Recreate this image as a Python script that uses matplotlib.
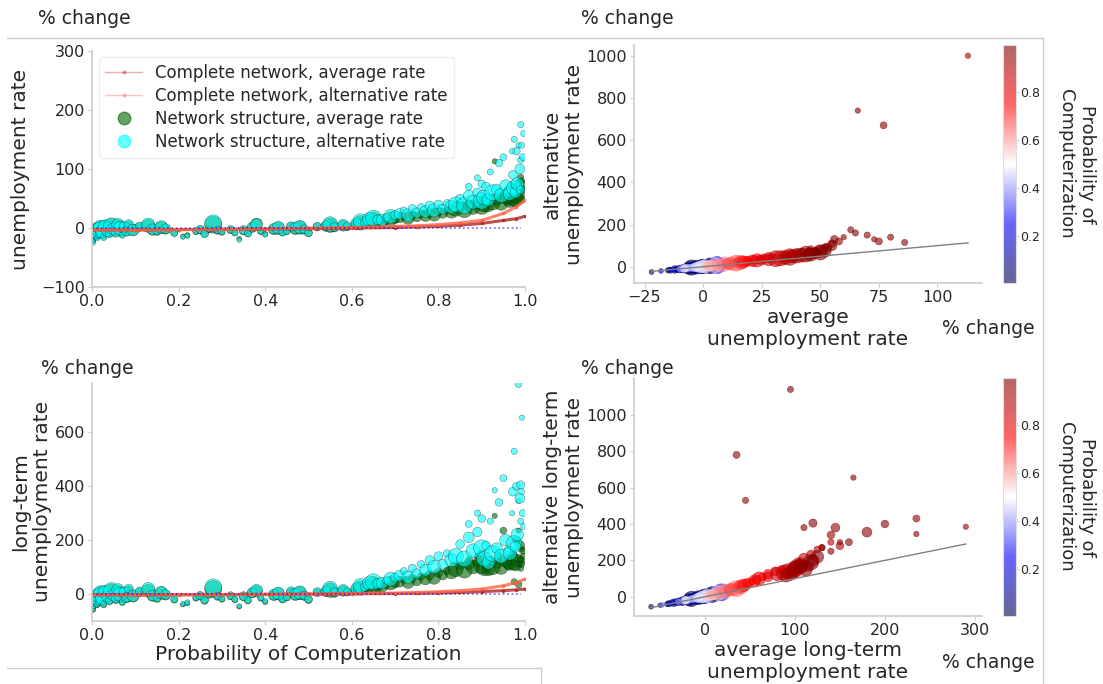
import numpy as np
import matplotlib
matplotlib.use('Agg')
import matplotlib.pyplot as plt
from matplotlib.lines import Line2D

# occupations: probability of computerization, marker size, % changes
prob = [0.003, 0.004, 0.006, 0.008, 0.01, 0.012, 0.015, 0.017, 0.02, 0.023,
        0.027, 0.03, 0.035, 0.04, 0.045, 0.05, 0.055, 0.06, 0.065, 0.07,
        0.075, 0.08, 0.085, 0.095,
        0.11, 0.13, 0.14, 0.15, 0.16, 0.17, 0.19, 0.21, 0.22, 0.24,
        0.25, 0.26, 0.27, 0.28, 0.29, 0.30,
        0.32, 0.33, 0.34, 0.35, 0.36, 0.37, 0.38, 0.39, 0.40, 0.42,
        0.43, 0.44, 0.45, 0.46, 0.47, 0.48, 0.49, 0.50, 0.52, 0.54,
        0.55, 0.56, 0.58, 0.59,
        0.61, 0.62, 0.63, 0.64, 0.65, 0.66, 0.67, 0.68, 0.69, 0.70,
        0.71, 0.72, 0.73, 0.74, 0.75, 0.76, 0.77, 0.78, 0.79, 0.80,
        0.81, 0.82, 0.83, 0.84, 0.85, 0.86, 0.87, 0.87, 0.88, 0.89,
        0.89, 0.90, 0.90,
        0.905, 0.91, 0.915, 0.92, 0.925, 0.93, 0.935, 0.94, 0.945, 0.95,
        0.955, 0.99, 0.962, 0.965, 0.993, 0.972, 0.975, 0.975, 0.978, 0.98,
        0.982, 0.985, 0.985, 0.988, 0.99, 0.99, 0.992, 0.97, 0.995, 0.997]

size = [12, 10, 30, 40, 120, 15, 100, 30, 110, 80,
        20, 90, 60, 30, 130, 70, 40, 80, 100, 20,
        60, 50, 40, 70,
        40, 90, 60, 30, 80, 50, 25, 12, 15, 20,
        35, 30, 25, 150, 30, 20,
        30, 20, 12, 40, 25, 50, 70, 20, 15, 60,
        80, 30, 25, 45, 70, 90, 40, 30, 35, 50,
        110, 40, 60, 30,
        60, 110, 40, 90, 130, 50, 70, 30, 100, 40,
        60, 25, 80, 35, 50, 30, 70, 45, 90, 40,
        50, 30, 90, 120, 40, 130, 60, 25, 100, 45,
        20, 140, 30,
        110, 40, 80, 20, 130, 15, 60, 30, 100, 25,
        70, 20, 50, 90, 15, 40, 120, 20, 60, 30,
        80, 25, 15, 50, 35, 20, 20, 15, 25, 20]

avg_u = [-22, -18, -12, -8, -5, -15, -3, -10, 0, -6,
         -14, 2, -4, -9, 3, -2, -7, 4, -1, -11,
         1, -5, 5, -3,
         2, 4, -3, -6, 1, -2, -8, -14, -12, -6,
         -3, -9, -2, 6, -4, -7,
         -3, -8, -18, -4, -9, 1, 7, -6, -10, -2,
         0, -7, -5, 2, -1, 1, -3, -8, 2, 3,
         5, 1, 4, 2,
         6, 9, 8, 12, 14, 10, 11, 13, 16, 15,
         18, 20, 17, 22, 19, 24, 21, 26, 23, 28,
         25, 30, 28, 33, 36, 31, 38, 42, 35, 40,
         46, 37, 48,
         40, 45, 38, 52, 44, 113, 48, 55, 42, 58,
         50, 63, 47, 46, 66, 53, 50, 70, 45, 56,
         52, 77, 60, 55, 48, 86, 80, 73, 75, 65]

alt_u = [-25, -20, -13, -9, -4, -17, -2, -11, 1, -6,
         -16, 3, -5, -10, 4, -1, -8, 6, 0, -12,
         2, -5, 7, -3,
         3, 6, -2, -5, 2, -1, -8, -15, -13, -5,
         -2, -10, -1, 8, -3, -6,
         -2, -8, -20, -3, -9, 2, 6, -5, -11, -1,
         1, -7, -5, 3, 0, 2, -2, -8, 3, 4,
         7, 2, 6, 4,
         8, 12, 10, 15, 17, 14, 14, 18, 20, 22,
         24, 30, 22, 33, 26, 35, 28, 38, 30, 40,
         32, 42, 36, 40, 50, 38, 55, 70, 44, 60,
         85, 46, 75,
         52, 70, 48, 95, 60, 1000, 65, 110, 55, 120,
         72, 175, 62, 58, 740, 90, 68, 150, 60, 130,
         75, 670, 140, 100, 65, 115, 140, 130, 120, 160]

avg_lt = [-60, -50, -35, -25, -15, -42, -8, -30, 0, -18,
          -40, 5, -12, -26, 8, -6, -20, 10, -3, -32,
          3, -15, 14, -9,
          6, 12, -8, -18, 3, -5, -22, -40, -35, -16,
          -8, -25, -4, 18, -10, -20,
          -8, -22, -48, -10, -25, 3, 10, -16, -30, -5,
          0, -20, -14, 6, -3, 3, -8, -22, 5, 8,
          14, 3, 11, 6,
          15, 22, 20, 30, 35, 26, 28, 33, 40, 38,
          45, 52, 43, 58, 48, 64, 55, 70, 60, 78,
          70, 85, 80, 92, 105, 88, 110, 125, 100, 118,
          140, 105, 150,
          95, 110, 90, 130, 100, 290, 115, 140, 98, 235,
          120, 95, 108, 112, 165, 145, 118, 45, 105, 200,
          125, 35, 235, 180, 120, 130, 110, 150, 160, 140]

alt_lt = [-55, -47, -33, -24, -12, -40, -6, -28, 3, -16,
          -38, 8, -10, -25, 12, -4, -18, 15, -1, -30,
          6, -13, 20, -7,
          9, 18, -6, -16, 5, -3, -20, -37, -32, -14,
          -6, -23, -2, 24, -8, -18,
          -6, -20, -45, -8, -23, 5, 14, -14, -28, -3,
          2, -18, -12, 9, -1, 5, -6, -20, 8, 11,
          20, 6, 15, 9,
          20, 30, 26, 40, 45, 38, 40, 50, 55, 60,
          68, 85, 62, 95, 75, 110, 88, 125, 100, 140,
          110, 150, 125, 140, 185, 130, 210, 260, 160, 230,
          300, 170, 280,
          130, 180, 115, 270, 150, 385, 170, 340, 140, 430,
          200, 1140, 160, 150, 655, 380, 190, 530, 175, 400,
          220, 780, 345, 355, 405, 270, 380, 300, 300, 250]

# complete network curves
cn_p = [0.0, 0.1, 0.2, 0.3, 0.4, 0.5, 0.6, 0.7, 0.75, 0.8, 0.85, 0.9, 0.95, 0.98, 1.0]
cn_avg_u = [-3, -3, -2.5, -2, -1.5, -1, 0, 1, 2, 3, 5, 8, 13, 16, 20]
cn_alt_u = [-3, -3, -2.5, -2, -1, 0, 1, 3, 4, 6, 9, 13, 25, 36, 47]
cn_avg_lt = [-4, -4, -3.5, -3, -2, -1, 0, 1, 2, 3, 5, 8, 12, 15, 18]
cn_alt_lt = [-4, -4, -3.5, -3, -2, -1, 1, 3, 5, 8, 12, 18, 30, 42, 55]

TXT = '#262626'
plt.rcParams['font.family'] = 'DejaVu Sans'
plt.rcParams['text.color'] = TXT
plt.rcParams['axes.labelcolor'] = TXT
plt.rcParams['xtick.color'] = TXT
plt.rcParams['ytick.color'] = TXT

fig = plt.figure(figsize=(11.03, 6.84), dpi=100)


def style(ax):
    for s in ['top', 'right']:
        ax.spines[s].set_visible(False)
    for s in ['left', 'bottom']:
        ax.spines[s].set_color('#cccccc')
        ax.spines[s].set_linewidth(1.2)
    ax.tick_params(labelsize=11.5, length=3, color='#cccccc', pad=2)


def left_panel(ax, avg, alt, cn_avg, cn_alt):
    ax.scatter(prob, avg, s=size, color='darkgreen', alpha=0.6, edgecolors='k', linewidths=0.3)
    ax.scatter(prob, alt, s=size, color='cyan', alpha=0.6, edgecolors='k', linewidths=0.3)
    ax.plot(cn_p, cn_avg, color='firebrick', lw=2.2, alpha=0.8, marker='.', ms=3)
    ax.plot(cn_p, cn_alt, color='tomato', lw=2.2, alpha=0.8, marker='.', ms=3)
    ax.plot([0, 0.99], [0, 0], color='blue', ls=':', lw=1.2, alpha=0.6)
    ax.set_xlim(0, 1)
    style(ax)


def right_panel(ax, cax, x, y):
    sc = ax.scatter(x, y, s=size, c=prob, cmap='seismic', alpha=0.6,
                    edgecolors='face', linewidths=0.5)
    ax.plot([min(x), max(x)], [min(x), max(x)], color='gray', lw=1)
    style(ax)
    cb = fig.colorbar(sc, cax=cax)
    cb.set_ticks([0.2, 0.4, 0.6, 0.8])
    cb.ax.tick_params(labelsize=9, length=2, color='#cccccc', pad=1)
    cb.outline.set_edgecolor('#dddddd')
    cb.set_label('Probability of\nComputerization', rotation=270, fontsize=13, labelpad=40)
    return sc


ax1 = fig.add_axes([0.0834, 0.580, 0.3926, 0.3459])
left_panel(ax1, avg_u, alt_u, cn_avg_u, cn_alt_u)
ax1.set_ylim(-100, 300)
ax1.set_ylabel('unemployment rate', fontsize=14.5, labelpad=8)
handles = [
    Line2D([], [], color='firebrick', marker='.', lw=1, ms=4, alpha=0.35),
    Line2D([], [], color='tomato', marker='.', lw=1, ms=4, alpha=0.35),
    Line2D([], [], color='darkgreen', marker='o', ls='', ms=9, alpha=0.6),
    Line2D([], [], color='cyan', marker='o', ls='', ms=9, alpha=0.6),
]
labels = ['Complete network, average rate', 'Complete network, alternative rate',
          'Network structure, average rate', 'Network structure, alternative rate']
leg = ax1.legend(handles, labels, loc='upper left', fontsize=12, labelspacing=0.3,
                 handlelength=2.2, borderaxespad=0.4, framealpha=1)
leg.get_frame().set_edgecolor('#eeeeee')

ax3 = fig.add_axes([0.0834, 0.0925, 0.3926, 0.348])
left_panel(ax3, avg_lt, alt_lt, cn_avg_lt, cn_alt_lt)
ax3.set_ylim(-100, 785)
ax3.set_yticks([0, 200, 400, 600])
ax3.set_ylabel('long-term\nunemployment rate', fontsize=14.5, labelpad=2)
ax3.set_xlabel('Probability of Computerization', fontsize=14.5, labelpad=2)

ax2 = fig.add_axes([0.5748, 0.5863, 0.3155, 0.348])
cax2 = fig.add_axes([0.9093, 0.5863, 0.0118, 0.348])
right_panel(ax2, cax2, avg_u, alt_u)
ax2.set_xlim(-29.5, 119)
ax2.set_ylim(-77, 1051)
ax2.set_xticks([-25, 0, 25, 50, 75, 100])
ax2.set_ylabel('alternative\nunemployment rate', fontsize=14.5, labelpad=2)
ax2.set_xlabel('average\nunemployment rate', fontsize=14.5, labelpad=2)

ax4 = fig.add_axes([0.5748, 0.0994, 0.3155, 0.348])
cax4 = fig.add_axes([0.9093, 0.0994, 0.0118, 0.348])
right_panel(ax4, cax4, avg_lt, alt_lt)
ax4.set_xlim(-79, 308)
ax4.set_ylim(-106, 1203)
ax4.set_xticks([0, 100, 200, 300])
ax4.set_yticks([0, 200, 400, 600, 800, 1000])
ax4.set_ylabel('alternative long-term\nunemployment rate', fontsize=14.5, labelpad=2)
ax4.set_xlabel('average long-term\nunemployment rate', fontsize=14.5, labelpad=2)

# "% change" annotations
W, H = 1103, 684
for (px, py) in [(38, 18), (581, 18), (942, 328), (41, 368), (581, 368), (942, 663)]:
    fig.text(px / W, 1 - py / H, '% change', fontsize=13.5, ha='left', va='center')

# leftover frame lines from the composed figure
frame = dict(transform=fig.transFigure, color='#cccccc', lw=1)
fig.add_artist(Line2D([7 / W, 1043 / W], [1 - 38 / H, 1 - 38 / H], **frame))
fig.add_artist(Line2D([1043 / W, 1043 / W], [1 - 38 / H, 0], **frame))
fig.add_artist(Line2D([7 / W, 541 / W], [1 - 668 / H, 1 - 668 / H], **frame))
fig.add_artist(Line2D([541 / W, 541 / W], [1 - 668 / H, 0], **frame))

fig.savefig('out.png', dpi=100)
